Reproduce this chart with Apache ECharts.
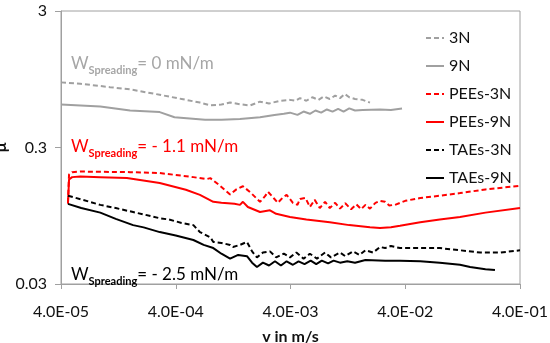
<!DOCTYPE html>
<html><head><meta charset="utf-8">
<script src="https://cdn.jsdelivr.net/npm/echarts@6/dist/echarts.min.js"></script>
<style>html,body{margin:0;padding:0;background:#fff}#c{width:550px;height:343px}</style>
</head><body><div id="c"></div>
<script>
const xTickValues = [4e-5, 4e-4, 4e-3, 4e-2, 4e-1];
const xTickLabels = ['4.0E-05','4.0E-04','4.0E-03','4.0E-02','4.0E-01'];
const yTickValues = [0.03, 0.3, 3];
const yTickLabels = ['0.03','0.3','3'];
const seriesNames = ['3N','9N','PEEs-3N','PEEs-9N','TAEs-3N','TAEs-9N'];

const gray3N = [[4.0e-5,0.90],[5.9e-5,0.88],[1.07e-4,0.83],[1.6e-4,0.80],[2.9e-4,0.73],[4.5e-4,0.68],[6.5e-4,0.64],[8.0e-4,0.61],[1.0e-3,0.62],[1.19e-3,0.64],[1.5e-3,0.62],[1.78e-3,0.61],[2.17e-3,0.65],[2.6e-3,0.63],[3.24e-3,0.66],[3.96e-3,0.67],[4.4e-3,0.66],[4.84e-3,0.69],[5.5e-3,0.66],[6.2e-3,0.70],[7.0e-3,0.67],[7.8e-3,0.71],[8.8e-3,0.68],[9.8e-3,0.72],[1.08e-2,0.69],[1.19e-2,0.74],[1.3e-2,0.70],[1.46e-2,0.68],[1.7e-2,0.67],[1.97e-2,0.64]];
const gray9N = [[4.0e-5,0.62],[8.8e-5,0.60],[1.6e-4,0.56],[2.9e-4,0.545],[3.9e-4,0.50],[5.3e-4,0.49],[7.2e-4,0.48],[1.0e-3,0.48],[1.45e-3,0.485],[2.17e-3,0.50],[2.9e-3,0.52],[3.5e-3,0.53],[3.96e-3,0.54],[4.6e-3,0.52],[5.2e-3,0.55],[5.9e-3,0.53],[6.6e-3,0.56],[7.4e-3,0.54],[8.3e-3,0.57],[9.3e-3,0.55],[1.04e-2,0.575],[1.16e-2,0.55],[1.3e-2,0.58],[1.46e-2,0.56],[1.7e-2,0.565],[2.41e-2,0.57],[3.0e-2,0.565],[3.75e-2,0.58]];
const pees3N = [[4.6e-5,0.118],[4.7e-5,0.190],[5.0e-5,0.198],[5.9e-5,0.200],[1.6e-4,0.198],[2.9e-4,0.195],[5.7e-4,0.182],[7.4e-4,0.176],[8.0e-4,0.179],[9.5e-4,0.160],[1.19e-3,0.136],[1.35e-3,0.148],[1.54e-3,0.156],[1.8e-3,0.140],[2.17e-3,0.120],[2.4e-3,0.132],[2.55e-3,0.142],[2.85e-3,0.128],[3.1e-3,0.118],[3.4e-3,0.128],[3.7e-3,0.135],[4.2e-3,0.118],[4.6e-3,0.114],[4.84e-3,0.126],[5.4e-3,0.128],[5.9e-3,0.110],[6.5e-3,0.124],[7.2e-3,0.108],[8.0e-3,0.120],[8.8e-3,0.108],[9.8e-3,0.118],[1.08e-2,0.107],[1.2e-2,0.117],[1.35e-2,0.106],[1.5e-2,0.115],[1.65e-2,0.106],[1.8e-2,0.114],[1.97e-2,0.107],[2.2e-2,0.118],[2.41e-2,0.122],[2.67e-2,0.120],[2.9e-2,0.113],[3.26e-2,0.114],[4.0e-2,0.122],[5.4e-2,0.128],[0.08,0.133],[0.12,0.139],[0.2,0.148],[0.4,0.157]];
const pees9N = [[4.6e-5,0.116],[4.7e-5,0.175],[5.0e-5,0.182],[5.9e-5,0.184],[8.8e-5,0.182],[1.5e-4,0.179],[2.9e-4,0.165],[4.9e-4,0.147],[6.5e-4,0.135],[8.5e-4,0.120],[1.0e-3,0.118],[1.3e-3,0.116],[1.45e-3,0.114],[1.54e-3,0.120],[1.7e-3,0.110],[2.17e-3,0.101],[2.65e-3,0.104],[3.0e-3,0.098],[3.96e-3,0.093],[5.5e-3,0.089],[8.8e-3,0.085],[1.3e-2,0.081],[1.97e-2,0.078],[2.41e-2,0.077],[3.0e-2,0.078],[3.6e-2,0.080],[5.4e-2,0.085],[0.08,0.089],[0.12,0.093],[0.2,0.100],[0.4,0.108]];
const taes3N = [[4.6e-5,0.133],[6.0e-5,0.125],[8.8e-5,0.114],[1.2e-4,0.108],[1.7e-4,0.101],[2.1e-4,0.097],[2.9e-4,0.091],[3.5e-4,0.089],[4.5e-4,0.084],[5.7e-4,0.081],[6.5e-4,0.072],[8.0e-4,0.066],[8.5e-4,0.061],[1.0e-3,0.060],[1.19e-3,0.058],[1.26e-3,0.056],[1.45e-3,0.058],[1.67e-3,0.061],[1.85e-3,0.052],[2.04e-3,0.047],[2.3e-3,0.051],[2.65e-3,0.052],[3.0e-3,0.047],[3.5e-3,0.050],[3.96e-3,0.047],[4.5e-3,0.051],[5.2e-3,0.046],[5.9e-3,0.050],[6.8e-3,0.046],[8.0e-3,0.051],[9.0e-3,0.047],[1.08e-2,0.051],[1.2e-2,0.048],[1.4e-2,0.052],[1.6e-2,0.049],[1.8e-2,0.053],[2.1e-2,0.051],[2.41e-2,0.056],[2.67e-2,0.055],[3.0e-2,0.057],[3.6e-2,0.055],[5.4e-2,0.055],[8.0e-2,0.055],[0.12,0.053],[0.18,0.051],[0.27,0.051],[0.4,0.053]];
const taes9N = [[4.6e-5,0.116],[6.0e-5,0.108],[8.8e-5,0.100],[1.2e-4,0.090],[1.7e-4,0.081],[2.1e-4,0.078],[2.9e-4,0.072],[4.0e-4,0.068],[5.7e-4,0.063],[7.0e-4,0.058],[8.5e-4,0.055],[1.0e-3,0.050],[1.19e-3,0.046],[1.4e-3,0.049],[1.67e-3,0.048],[1.85e-3,0.043],[2.04e-3,0.040],[2.3e-3,0.043],[2.6e-3,0.041],[2.93e-3,0.044],[3.3e-3,0.041],[3.7e-3,0.044],[4.2e-3,0.0415],[4.7e-3,0.044],[5.3e-3,0.042],[6.0e-3,0.0445],[6.7e-3,0.042],[7.5e-3,0.0445],[8.5e-3,0.0425],[9.5e-3,0.0445],[1.08e-2,0.043],[1.25e-2,0.044],[1.46e-2,0.043],[1.8e-2,0.045],[2.67e-2,0.0445],[3.6e-2,0.0445],[5.4e-2,0.044],[8.0e-2,0.043],[0.12,0.0415],[0.147,0.040],[0.2,0.0385],[0.242,0.038]];

const seriesData = [gray3N, gray9N, pees3N, pees9N, taes3N, taes9N];
const colors = ['#a0a0a0','#a0a0a0','#ff0000','#ff0000','#000000','#000000'];
const dashed = [true,false,true,false,true,false];

const FONT = 'Lato';
const chart = echarts.init(document.getElementById('c'), null, {renderer:'canvas'});

function nearestLabel(v, values, labels){
  let best = 0, bd = Infinity;
  values.forEach((t,i)=>{ const d = Math.abs(Math.log10(v) - Math.log10(t)); if (d < bd){bd = d; best = i;} });
  return labels[best];
}

function annot(top, value, color){
  return {type:'text', left:71, top: top, z:10,
    style:{text:'{w|W}{s|Spreading}{e|= ' + value + '}', fill: color,
      rich:{
        w:{fontSize:17, fontFamily:FONT, lineHeight:24, fill:color},
        s:{fontSize:11, fontFamily:FONT, fontWeight:'bold', lineHeight:12, verticalAlign:'bottom', fill:color},
        e:{fontSize:17, fontFamily:FONT, lineHeight:24, fill:color}
      }}};
}

const option = {
  animation:false,
  backgroundColor:'#fff',
  textStyle:{fontFamily:FONT},
  grid:{left:61,right:30,top:11,bottom:59,containLabel:false,outerBoundsMode:'none',
        show:true,borderColor:'#a0a0a0',borderWidth:1,backgroundColor:'transparent'},
  legend:{orient:'vertical', left:420, top:25, itemWidth:18, itemHeight:14, itemGap:12,
    data: seriesNames,
    itemStyle:{opacity:0},
    textStyle:{fontSize:16, fontFamily:FONT, color:'#111'}},
  xAxis:{type:'log', logBase:10, min:4e-5, max:0.4,
     axisLine:{show:true,lineStyle:{color:'#a0a0a0'}},
     axisTick:{show:true, length:5, customValues:xTickValues, lineStyle:{color:'#a0a0a0'}},
     axisLabel:{customValues:xTickValues, formatter:(v)=>nearestLabel(v, xTickValues, xTickLabels),
                fontSize:16, fontFamily:FONT, color:'#111', margin:20, hideOverlap:false},
     splitLine:{show:false}, minorTick:{show:false},
     name:'v in m/s', nameLocation:'middle', nameGap:45, nameMoveOverlap:false,
     nameTextStyle:{fontSize:16, fontWeight:'bold', fontFamily:FONT, color:'#111'}},
  yAxis:{type:'log', logBase:10, min:0.03, max:3,
     axisLine:{show:true,lineStyle:{color:'#a0a0a0'}},
     axisTick:{show:true, length:6, customValues:yTickValues, lineStyle:{color:'#a0a0a0'}},
     axisLabel:{customValues:yTickValues, formatter:(v)=>nearestLabel(v, yTickValues, yTickLabels),
                fontSize:16, fontFamily:FONT, color:'#111', margin:14, hideOverlap:false},
     splitLine:{show:false}, minorTick:{show:false},
     name:'μ', nameLocation:'middle', nameGap:52, nameRotate:90, nameMoveOverlap:false,
     nameTextStyle:{fontSize:16, fontWeight:'bold', fontFamily:FONT, color:'#111'}},
  series: seriesNames.map((n,i)=>({
    name:n, type:'line', data:seriesData[i],
    symbol:'none', showSymbol:false, smooth:false,
    lineStyle:{color:colors[i], width:2, type: dashed[i] ? [5,3] : 'solid'},
    itemStyle:{color:colors[i]}
  })),
  graphic:[
    annot(55, '0 mN/m', '#a6a6a6'),
    annot(138, '- 1.1 mN/m', '#ff0000'),
    annot(266, '- 2.5 mN/m', '#000000')
  ]
};
chart.setOption(option);
</script></body></html>
